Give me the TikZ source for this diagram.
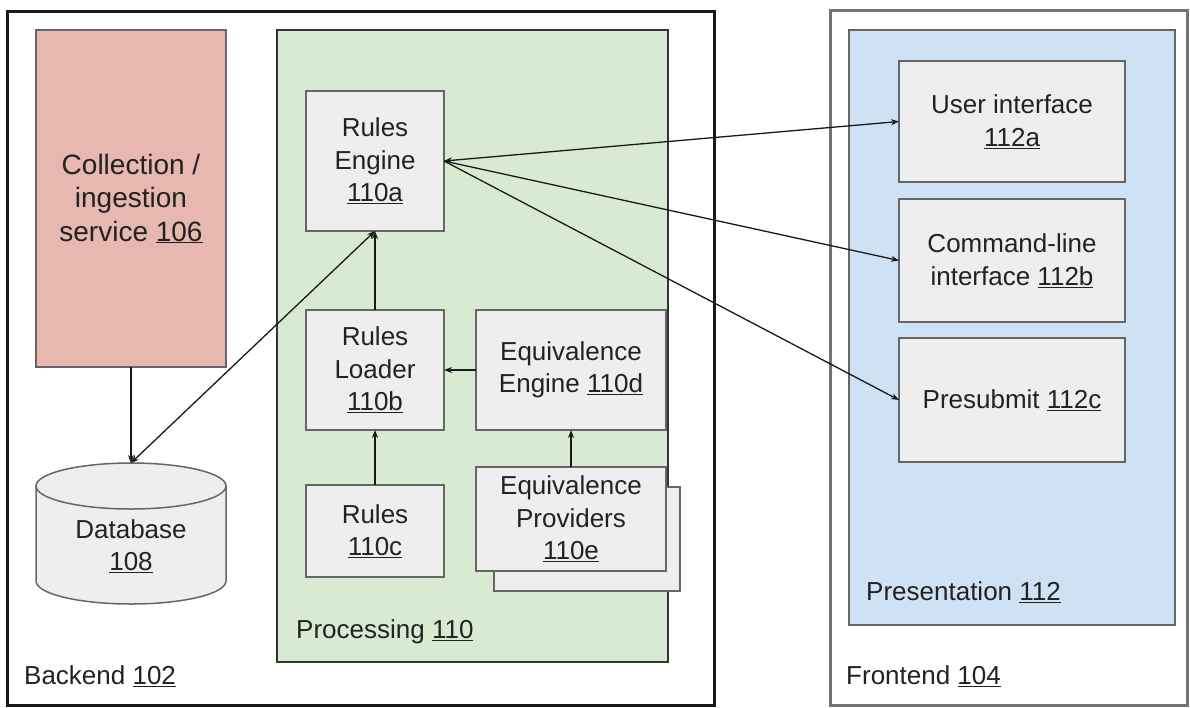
\documentclass[tikz,border=0pt]{standalone}
\usepackage{fontspec}
\setmainfont{Liberation Sans}
\usetikzlibrary{arrows.meta}
\definecolor{colfill}{HTML}{E6B8AF}
\definecolor{procfill}{HTML}{D9EAD3}
\definecolor{presfill}{HTML}{CFE2F3}
\definecolor{boxfill}{HTML}{EEEEEE}
\definecolor{boxdraw}{HTML}{666666}
\definecolor{txt}{HTML}{222222}
\begin{document}
\begin{tikzpicture}[x=1pt,y=-1pt,
  txtstyle/.style={text=txt,font=\fontsize{26}{32.5}\selectfont},
  box/.style={draw=boxdraw,fill=boxfill,line width=1.5pt,inner sep=0pt,outer sep=0pt,align=center,txtstyle},
  lbl/.style={txtstyle,anchor=west,inner sep=0pt},
  arr/.style={-{Stealth[length=8pt,width=6pt]},line width=1.3pt,draw=black!90},
  arrboth/.style={{Stealth[length=8pt,width=6pt]}-{Stealth[length=8pt,width=6pt]},line width=1.3pt,draw=black!90}]
\useasboundingbox (0,0) rectangle (1190,707);
\fill[white] (0,0) rectangle (1190,707);

% outer containers
\draw[line width=3pt,black!90] (7,11) rectangle (714,705.5);
\draw[line width=3pt,black!55] (830,10) rectangle (1187,705);

% processing and presentation
\draw[fill=procfill,draw=black!80,line width=1.5pt] (277,30) rectangle (668,662);
\draw[fill=presfill,draw=boxdraw,line width=1.5pt] (849,30) rectangle (1175,625);

% collection
\node[box,fill=colfill,minimum width=190pt,minimum height=337pt,font=\fontsize{28}{33.5}\selectfont] (coll) at (131,198.5) {Collection /\\ingestion\\service \underline{106}};

% database cylinder
\fill[boxfill] (36,486) -- (36,581) arc[start angle=180,end angle=0,x radius=95,y radius=23] -- (226,486) -- cycle;
\draw[boxdraw,line width=1.5pt] (36,486) -- (36,581) arc[start angle=180,end angle=0,x radius=95,y radius=23] -- (226,486);
\draw[boxdraw,fill=boxfill,line width=1.5pt] (131,486) ellipse[x radius=95,y radius=23];
\coordinate (dbtop) at (131,463);
\node[txtstyle,align=center,inner sep=0pt] (db) at (131,546) {Database\\\underline{108}};

% processing boxes
\node[box,minimum width=138pt,minimum height=140pt] (re) at (375,161) {Rules\\Engine\\\underline{110a}};
\node[box,minimum width=138pt,minimum height=120pt] (rl) at (375,370) {Rules\\Loader\\\underline{110b}};
\node[box,minimum width=190pt,minimum height=120pt] (ee) at (571,370) {Equivalence\\Engine \underline{110d}};
\node[box,minimum width=138pt,minimum height=92pt] (rc) at (375,531) {Rules\\\underline{110c}};
\node[box,minimum width=186pt,minimum height=104pt] (eps) at (587,539) {};
\node[box,minimum width=190pt,minimum height=104pt] (ep) at (571,519) {Equivalence\\Providers\\\underline{110e}};

% presentation boxes
\node[box,minimum width=226pt,minimum height=121pt] (ui) at (1012,121.5) {User interface\\\underline{112a}};
\node[box,minimum width=226pt,minimum height=123pt] (cli) at (1012,260.5) {Command-line\\interface \underline{112b}};
\node[box,minimum width=226pt,minimum height=124pt] (ps) at (1012,400) {Presubmit \underline{112c}};

% labels
\node[lbl] (lback) at (24,676) {Backend \underline{102}};
\node[lbl] (lfront) at (846,676) {Frontend \underline{104}};
\node[lbl] (lproc) at (296,632) {Processing \underline{110}};
\node[lbl] (lpres) at (866,592) {Presentation \underline{112}};

% connectors
\draw[arr] (rl.north) -- (re.south);
\draw[arr] (ee.west) -- (rl.east);
\draw[arr] (rc.north) -- (rl.south);
\draw[arr] (ep.north) -- (ee.south);
\draw[arr] (coll.south) -- (dbtop);
\draw[arrboth] (dbtop) -- (re.south);
\draw[arrboth] (re.east) -- (ui.west);
\draw[arr] (re.east) -- (cli.west);
\draw[arr] (re.east) -- (ps.west);
\end{tikzpicture}
\end{document}
